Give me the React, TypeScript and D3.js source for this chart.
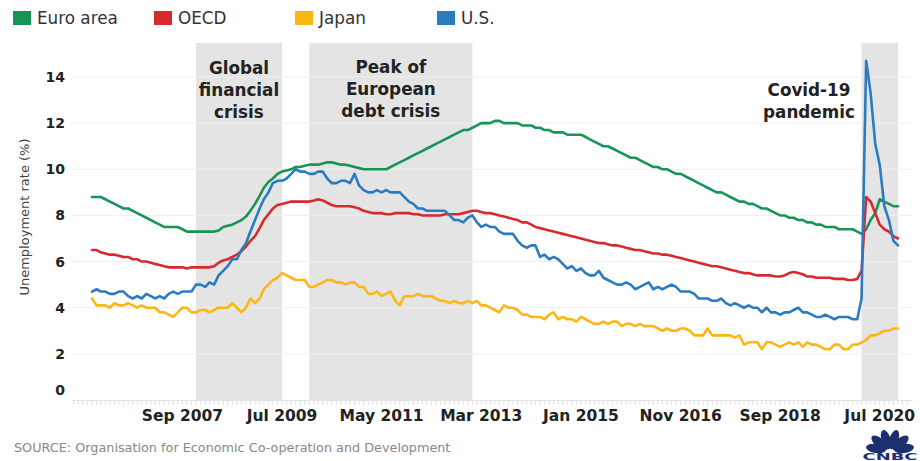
import React from "react";
import * as d3 from "d3";

// ---------- DATA (monthly, starting Jan 2006) ----------
const startMonth = "2006-01";
const endMonth = "2020-11";

const euroArea = [
  8.8, 8.8, 8.8, 8.7, 8.6, 8.5, 8.4, 8.3, 8.3, 8.2, 8.1, 8.0,
  7.9, 7.8, 7.7, 7.6, 7.5, 7.5, 7.5, 7.5, 7.4, 7.3, 7.3, 7.3,
  7.3, 7.3, 7.3, 7.3, 7.35, 7.5, 7.55, 7.6, 7.7, 7.8, 7.95, 8.2,
  8.5, 8.85, 9.2, 9.45, 9.6, 9.8, 9.9, 9.95, 10.0, 10.1, 10.1, 10.15,
  10.2, 10.2, 10.2, 10.25, 10.3, 10.3, 10.25, 10.2, 10.2, 10.15, 10.1, 10.05,
  10.0, 10.0, 10.0, 10.0, 10.0, 10.0, 10.1, 10.2, 10.3, 10.4, 10.5, 10.6,
  10.7, 10.8, 10.9, 11.0, 11.1, 11.2, 11.3, 11.4, 11.5, 11.6, 11.7, 11.7,
  11.8, 11.9, 12.0, 12.0, 12.0, 12.1, 12.1, 12.0, 12.0, 12.0, 12.0, 11.9,
  11.9, 11.9, 11.8, 11.8, 11.7, 11.7, 11.6, 11.6, 11.6, 11.5, 11.5, 11.5,
  11.5, 11.4, 11.3, 11.2, 11.1, 11.0, 11.0, 10.9, 10.8, 10.7, 10.6, 10.5,
  10.5, 10.4, 10.3, 10.2, 10.1, 10.1, 10.0, 10.0, 9.9, 9.8, 9.8, 9.7,
  9.6, 9.5, 9.4, 9.3, 9.2, 9.1, 9.0, 9.0, 8.9, 8.8, 8.7, 8.6,
  8.6, 8.5, 8.5, 8.4, 8.3, 8.3, 8.2, 8.1, 8.0, 8.0, 7.9, 7.9,
  7.8, 7.8, 7.7, 7.7, 7.6, 7.6, 7.5, 7.5, 7.5, 7.4, 7.4, 7.4,
  7.4, 7.3, 7.2, 7.4, 7.8, 8.1, 8.7, 8.6, 8.5, 8.4, 8.4,
];

const oecd = [
  6.5, 6.5, 6.4, 6.35, 6.3, 6.3, 6.25, 6.2, 6.2, 6.1, 6.1, 6.0,
  6.0, 5.95, 5.9, 5.85, 5.8, 5.75, 5.75, 5.75, 5.75, 5.7, 5.75, 5.75,
  5.75, 5.75, 5.75, 5.8, 5.95, 6.05, 6.1, 6.2, 6.3, 6.45, 6.65, 6.9,
  7.1, 7.45, 7.8, 8.05, 8.3, 8.45, 8.5, 8.55, 8.6, 8.6, 8.6, 8.6,
  8.6, 8.65, 8.7, 8.65, 8.55, 8.45, 8.4, 8.4, 8.4, 8.4, 8.35, 8.3,
  8.2, 8.15, 8.1, 8.1, 8.1, 8.05, 8.05, 8.1, 8.1, 8.1, 8.1, 8.05,
  8.05, 8.0, 8.0, 8.0, 8.0, 8.0, 8.05, 8.05, 8.05, 8.05, 8.1, 8.15,
  8.2, 8.2, 8.15, 8.1, 8.1, 8.05, 8.0, 7.95, 7.9, 7.85, 7.8, 7.7,
  7.7, 7.6, 7.5, 7.45, 7.4, 7.35, 7.3, 7.25, 7.2, 7.15, 7.1, 7.05,
  7.0, 6.95, 6.9, 6.85, 6.8, 6.8, 6.75, 6.7, 6.7, 6.65, 6.6, 6.55,
  6.5, 6.5, 6.45, 6.4, 6.35, 6.35, 6.3, 6.3, 6.25, 6.2, 6.15, 6.1,
  6.05, 6.0, 5.95, 5.9, 5.85, 5.8, 5.8, 5.75, 5.7, 5.65, 5.6, 5.55,
  5.5, 5.5, 5.45, 5.4, 5.4, 5.4, 5.4, 5.35, 5.35, 5.4, 5.5, 5.55,
  5.5, 5.45, 5.35, 5.35, 5.3, 5.3, 5.3, 5.3, 5.25, 5.25, 5.25, 5.2,
  5.2, 5.25, 5.6, 8.8, 8.6, 8.1, 7.6, 7.4, 7.3, 7.1, 7.0,
];

const japan = [
  4.4, 4.1, 4.1, 4.1, 4.0, 4.2, 4.1, 4.1, 4.2, 4.1, 4.0, 4.1,
  4.0, 4.0, 4.0, 3.8, 3.8, 3.7, 3.6, 3.8, 4.0, 4.0, 3.8, 3.8,
  3.9, 3.9, 3.8, 3.9, 4.0, 4.0, 4.0, 4.2, 4.0, 3.8, 4.0, 4.4,
  4.2, 4.4, 4.8, 5.0, 5.2, 5.3, 5.5, 5.4, 5.3, 5.2, 5.2, 5.2,
  4.9, 4.9, 5.0, 5.1, 5.2, 5.2, 5.1, 5.1, 5.0, 5.1, 5.1, 4.9,
  4.9, 4.6, 4.6, 4.7, 4.5, 4.6, 4.7, 4.3, 4.1, 4.5, 4.5, 4.5,
  4.6, 4.5, 4.5, 4.5, 4.4, 4.3, 4.3, 4.2, 4.3, 4.2, 4.2, 4.3,
  4.2, 4.3, 4.1, 4.1, 4.0, 3.9, 3.8, 4.1, 4.0, 4.0, 3.9, 3.7,
  3.7, 3.6, 3.6, 3.6, 3.5, 3.7, 3.8, 3.5, 3.6, 3.5, 3.5, 3.4,
  3.6, 3.5, 3.4, 3.3, 3.3, 3.4, 3.3, 3.4, 3.4, 3.2, 3.3, 3.3,
  3.2, 3.3, 3.2, 3.2, 3.2, 3.1, 3.0, 3.1, 3.0, 3.0, 3.1, 3.1,
  3.0, 2.8, 2.8, 2.8, 3.1, 2.8, 2.8, 2.8, 2.8, 2.8, 2.7, 2.8,
  2.4, 2.5, 2.5, 2.5, 2.2, 2.5, 2.5, 2.4, 2.3, 2.4, 2.5, 2.4,
  2.5, 2.3, 2.5, 2.4, 2.4, 2.3, 2.2, 2.2, 2.4, 2.4, 2.2, 2.2,
  2.4, 2.4, 2.5, 2.6, 2.8, 2.8, 2.9, 3.0, 3.0, 3.1, 3.1,
];

const us = [
  4.7, 4.8, 4.7, 4.7, 4.6, 4.6, 4.7, 4.7, 4.5, 4.4, 4.5, 4.4,
  4.6, 4.5, 4.4, 4.5, 4.4, 4.6, 4.7, 4.6, 4.7, 4.7, 4.7, 5.0,
  5.0, 4.9, 5.1, 5.0, 5.4, 5.6, 5.8, 6.1, 6.1, 6.5, 6.8, 7.3,
  7.8, 8.3, 8.7, 9.0, 9.4, 9.5, 9.5, 9.6, 9.8, 10.0, 9.9, 9.9,
  9.8, 9.8, 9.9, 9.9, 9.6, 9.4, 9.4, 9.5, 9.5, 9.4, 9.8, 9.3,
  9.1, 9.0, 9.0, 9.1, 9.0, 9.1, 9.0, 9.0, 9.0, 8.8, 8.6, 8.5,
  8.3, 8.3, 8.2, 8.2, 8.2, 8.2, 8.2, 8.0, 7.8, 7.8, 7.7, 7.9,
  8.0, 7.7, 7.5, 7.6, 7.5, 7.5, 7.3, 7.2, 7.2, 7.2, 6.9, 6.7,
  6.6, 6.7, 6.7, 6.2, 6.3, 6.1, 6.2, 6.1, 5.9, 5.7, 5.8, 5.6,
  5.7, 5.5, 5.4, 5.4, 5.6, 5.3, 5.2, 5.1, 5.0, 5.0, 5.1, 5.0,
  4.8, 4.9, 5.0, 5.1, 4.8, 4.9, 4.8, 4.9, 5.0, 4.9, 4.7, 4.7,
  4.7, 4.6, 4.4, 4.4, 4.4, 4.3, 4.3, 4.4, 4.2, 4.1, 4.2, 4.1,
  4.0, 4.1, 4.0, 4.0, 3.8, 4.0, 3.8, 3.8, 3.7, 3.8, 3.8, 3.9,
  4.0, 3.8, 3.8, 3.7, 3.6, 3.6, 3.7, 3.6, 3.5, 3.6, 3.6, 3.6,
  3.5, 3.5, 4.4, 14.7, 13.3, 11.1, 10.2, 8.4, 7.8, 6.9, 6.7,
];

const seriesNames = ["Euro area", "OECD", "Japan", "U.S."];
const seriesValues = [euroArea, oecd, japan, us];

const xTickMonths = ["2007-09", "2009-07", "2011-05", "2013-03", "2015-01", "2016-11", "2018-09", "2020-07"];
const yTickValues = [0, 2, 4, 6, 8, 10, 12, 14];

const shadedPeriods = [
  ["2007-12", "2009-07"],
  ["2010-01", "2013-01"],
  ["2020-03", "2020-11"],
];
const shadedLabels = [
  ["Global", "financial", "crisis"],
  ["Peak of", "European", "debt crisis"],
  ["Covid-19", "pandemic"],
];

const yAxisTitle = "Unemployment rate (%)";
const sourceText = "SOURCE: Organisation for Economic Co-operation and Development";

// ---------- STYLE ----------
const COLORS = ["#179557", "#d62a2f", "#fdb614", "#2b7bc0"];
const FONT = "'DejaVu Sans', 'Open Sans', sans-serif";
const W = 920;
const H = 461;

const parseMonth = d3.timeParse("%Y-%m");
const fmt = d3.timeFormat("%b %Y");

export default function App() {
  const start = parseMonth(startMonth) as Date;
  const end = parseMonth(endMonth) as Date;
  const x = d3.scaleTime().domain([start, end]).range([92, 898]);
  const y = d3.scaleLinear().domain([0, 14]).range([400, 77]);

  const months = d3.timeMonth.range(start, d3.timeMonth.offset(end, 1));
  const line = d3
    .line<number>()
    .x((_, i) => x(months[i]))
    .y((v) => y(v));

  const labelAnchors = [
    { cy: [74, 96, 118] },
    { cy: [73, 95, 117] },
    { cy: [96, 118], cx: 809 },
  ];

  // logo feathers
  const feathers = [-78, -47, -16, 16, 47, 78];
  const lcx = 890;
  const lcy = 451;

  return (
    <svg width={W} height={H} style={{ display: "block", position: "absolute", left: 0, top: 0 }} fontFamily={FONT}>
      <rect x={0} y={0} width={W} height={H} fill="#fff" />

      {/* shaded periods */}
      {shadedPeriods.map(([a, b], i) => {
        const x0 = x(parseMonth(a) as Date);
        const x1 = x(parseMonth(b) as Date);
        return <rect key={i} x={x0} y={43} width={x1 - x0} height={400 - 43} fill="#e4e4e4" />;
      })}

      {/* gridlines */}
      {yTickValues.filter((v) => v > 0).map((v) => (
        <line key={v} x1={72} x2={912} y1={y(v)} y2={y(v)} stroke="#efefef" strokeWidth={1} />
      ))}

      {/* bottom axis dotted */}
      <line x1={72} x2={912} y1={400.5} y2={400.5} stroke="#e2e2e2" strokeWidth={1} />
      {d3.timeMonth.range(d3.timeMonth.offset(start, -4), d3.timeMonth.offset(end, 3)).map((m, i) => (
        <line key={i} x1={x(m)} x2={x(m)} y1={400} y2={405} stroke="#e0e0e0" strokeWidth={1} />
      ))}

      {/* y tick labels */}
      {yTickValues.map((v) => (
        <text
          key={v}
          x={65}
          y={y(v) + (v === 0 ? -10 : 0)}
          dy="0.36em"
          textAnchor="end"
          fontSize={14}
          fontWeight={700}
          fill="#222"
        >
          {v}
        </text>
      ))}

      {/* y axis title */}
      <text
        transform={`translate(29,217) rotate(-90)`}
        textAnchor="middle"
        fontSize={13}
        fill="#444"
      >
        {yAxisTitle}
      </text>

      {/* x tick labels */}
      {xTickMonths.map((m) => {
        const d = parseMonth(m) as Date;
        return (
          <text key={m} x={x(d)} y={421} textAnchor="middle" fontSize={15.5} fontWeight={700} fill="#222">
            {fmt(d)}
          </text>
        );
      })}

      {/* series lines */}
      {seriesValues.map((vals, i) => (
        <path
          key={seriesNames[i]}
          d={line(vals) || ""}
          fill="none"
          stroke={COLORS[i]}
          strokeWidth={2.6}
          strokeLinejoin="round"
          strokeLinecap="round"
        />
      ))}

      {/* shaded labels */}
      {shadedLabels.map((lines, i) => {
        const [a, b] = shadedPeriods[i];
        const cx =
          labelAnchors[i].cx ?? (x(parseMonth(a) as Date) + x(parseMonth(b) as Date)) / 2;
        return (
          <g key={i}>
            {lines.map((t, j) => (
              <text
                key={j}
                x={cx}
                y={labelAnchors[i].cy[j]}
                textAnchor="middle"
                fontSize={16.8}
                fontWeight={700}
                fill="#222"
              >
                {t}
              </text>
            ))}
          </g>
        );
      })}

      {/* legend */}
      {seriesNames.map((n, i) => {
        const lx = [13, 154, 295, 437][i];
        return (
          <g key={n}>
            <rect x={lx} y={11} width={18} height={14} fill={COLORS[i]} />
            <text x={lx + 24} y={24} fontSize={16.8} fill="#333">
              {n}
            </text>
          </g>
        );
      })}

      {/* source */}
      <text x={14} y={452} fontSize={12.8} fill="#888">
        {sourceText}
      </text>

      {/* CNBC logo */}
      <g fill="#1c2f6e">
        {feathers.map((a, i) => {
          const rad = (a * Math.PI) / 180;
          const dist = 12.5;
          const ex = lcx + Math.sin(rad) * dist * 1.15;
          const ey = lcy - Math.cos(rad) * dist * 0.95;
          return (
            <ellipse
              key={i}
              cx={ex}
              cy={ey}
              rx={4.6}
              ry={10}
              transform={`rotate(${a * 1.05},${ex},${ey})`}
            />
          );
        })}
        <text x={lcx} y={459.5} textAnchor="middle" fontSize={9.5} fontWeight={900} fontFamily="'DejaVu Sans', sans-serif" textLength={55} lengthAdjust="spacingAndGlyphs">
          CNBC
        </text>
      </g>
    </svg>
  );
}
